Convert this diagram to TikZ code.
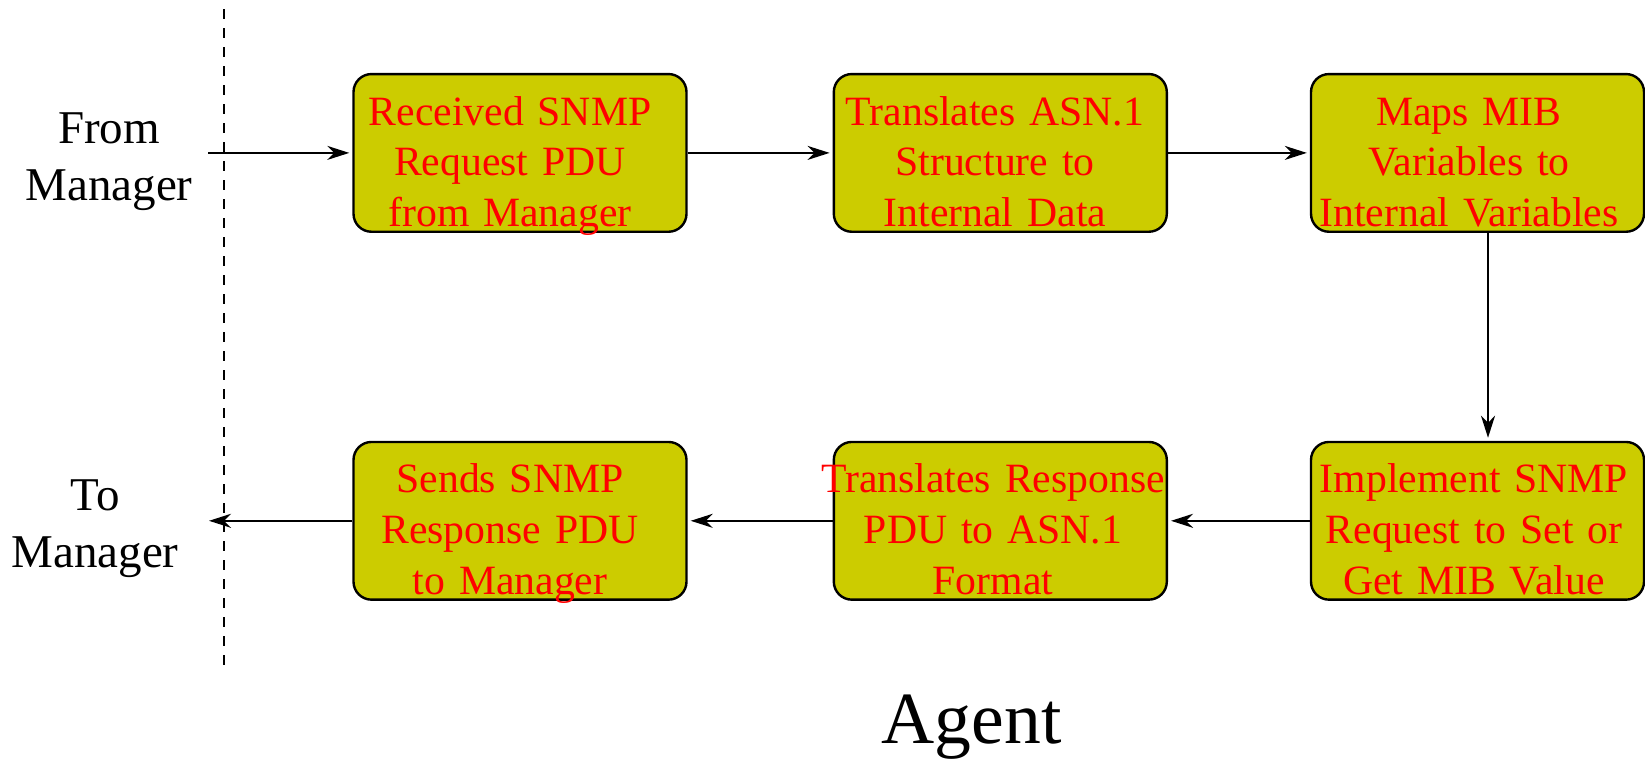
\documentclass[tikz,border=0pt]{standalone}
\usepackage{fontspec}
\setmainfont{Liberation Serif}
\usetikzlibrary{arrows.meta}
\definecolor{boxfill}{RGB}{204,204,0}
\begin{document}
\begin{tikzpicture}[x=1pt,y=-1pt,
  stepbox/.style={draw=black, line width=2.4pt, fill=boxfill, rounded corners=18pt,
    minimum width=333pt, minimum height=157.7pt, inner sep=0pt},
  boxtext/.style={text=red, font=\fontsize{41.7}{50.7}\selectfont, text width=420pt,
    align=center, anchor=base, inner sep=0pt},
  side/.style={font=\fontsize{47}{57}\selectfont, text width=250pt, align=center,
    anchor=base, inner sep=0pt},
  flow/.style={line width=2pt, -{Stealth[length=22pt,width=14pt,inset=7pt]}, shorten >=3pt},
  sep/.style={line width=2pt, dash pattern=on 10pt off 9pt}]
\path[use as bounding box] (0,0) rectangle (1645,761);
% separator
\coordinate (s1) at (223.7,9);
\coordinate (s2) at (223.7,671);
\draw[sep] (s1) -- (s2);
% boxes
\node[stepbox] (b1) at (520,152.9) {};
\node[stepbox] (b2) at (1000.3,152.9) {};
\node[stepbox] (b3) at (1477.5,152.9) {};
\node[stepbox] (b4) at (1477.5,520.8) {};
\node[stepbox] (b5) at (1000.3,520.8) {};
\node[stepbox] (b6) at (520,520.8) {};
% box texts
\node[boxtext] (t1) at (510,125) {Received SNMP\\Request PDU\\from Manager};
\node[boxtext] (t2) at (995,125) {Translates ASN.1\\Structure to\\Internal Data};
\node[boxtext] (t3) at (1469,125) {Maps MIB\\Variables to\\Internal Variables};
\node[boxtext] (t4) at (1474,492.7) {Implement SNMP\\Request to Set or\\Get MIB Value};
\node[boxtext] (t5) at (993,492.7) {Translates Response\\PDU to ASN.1\\Format};
\node[boxtext] (t6) at (510,492.7) {Sends SNMP\\Response PDU\\to Manager};
% side labels
\node[side] (from) at (109,143.3) {From\\Manager};
\node[side] (to) at (95,510.7) {To\\Manager};
\node[anchor=base, inner sep=0pt, font=\fontsize{73.6}{88}\selectfont] (agent) at (971.7,743.3) {Agent};
% connectors
\coordinate (in) at (208,152.9);
\coordinate (out) at (206,520.8);
\coordinate (vx) at (1488,0);
\draw[flow] (in) -- (b1.west);
\draw[flow] (b1.east) -- (b2.west);
\draw[flow] (b2.east) -- (b3.west);
\draw[flow] (b3.south -| vx) -- (b4.north -| vx);
\draw[flow] (b4.west) -- (b5.east);
\draw[flow] (b5.west) -- (b6.east);
\draw[flow] (b6.west) -- (out);
\end{tikzpicture}
\end{document}
